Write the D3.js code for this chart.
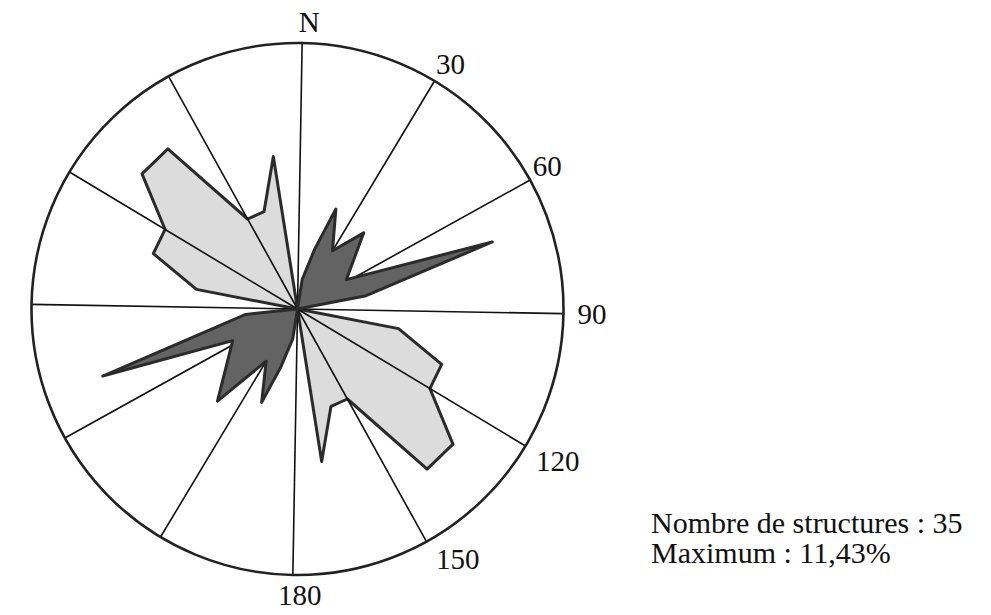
<!DOCTYPE html>
<html>

<head>
    <meta charset="utf-8">
    <title>Rose diagram</title>
</head>

<body style="margin:0; background:#fff;">
    <script src='https://d3js.org/d3.v7.min.js'></script>
    <style>
    svg text {
        font-family: "Liberation Serif", "DejaVu Serif", serif;
        font-size: 29px;
        fill: #111;
    }
    svg text.info {
        font-size: 30px;
    }
    </style>
    <script>
    // light rose : one vertex every 10 degrees (values in %)
    var lightAngles = [0, 10, 20, 30, 40, 50, 60, 70, 80, 90, 100, 110, 120, 130, 140, 150, 160, 170,
        180, 190, 200, 210, 220, 230, 240, 250, 260, 270, 280, 290, 300, 310, 320, 330, 340, 350];
    var lightValues = [0, 0, 0, 0, 0, 0, 0, 0, 0, 0, 5.71, 8.57, 8.57, 11.43, 11.43, 5.71, 5.71, 8.57,
        0, 0, 0, 0, 0, 0, 0, 0, 0, 0, 5.71, 8.57, 8.57, 11.43, 11.43, 5.71, 5.71, 8.57];

    // dark rose : spikes (angle in degrees, value in %)
    var darkAngles = [0, 8, 15, 20, 30, 40, 58, 70, 78, 90, 180, 188, 195, 200, 210, 220, 243, 250, 263, 270];
    var darkValues = [0, 1.66, 3.44, 5.94, 3.77, 5.6, 3.16, 11.43, 3.88, 0, 0, 1.66, 3.33, 5.55, 3.38, 6.77, 4.0, 11.43, 2.89, 0];

    // graduation every 30 degrees and its labels
    var tickAngles = [0, 30, 60, 90, 120, 150, 180, 210, 240, 270, 300, 330];
    var labelAngles = [0, 30, 60, 90, 120, 150, 180];
    var labelTexts = ["N", "30", "60", "90", "120", "150", "180"];

    var infoLines = ["Nombre de structures : 35", "Maximum : 11,43%"];

    var width = 991,
        height = 615;
    var cx = 297.5,
        cy = 309,
        R = 266;
    var tilt = 1; // the scan is turned about 1 degree

    var rad = function(a) { return a * Math.PI / 180; };
    var r = d3.scaleLinear().domain([0, 14.76]).range([0, R]);

    var svg = d3.select("body")
        .append("svg")
        .attr("width", width)
        .attr("height", height);

    var g = svg.append("g")
        .attr("transform", "translate(" + cx + "," + cy + ") rotate(" + tilt + ")");

    var rose = d3.lineRadial()
        .angle(function(d) { return rad(d[0]); })
        .radius(function(d) { return r(d[1]); })
        .curve(d3.curveLinearClosed);

    // light rose first
    g.append("path")
        .datum(d3.zip(lightAngles, lightValues))
        .attr("d", rose)
        .attr("fill", "#dcdcdc")
        .attr("stroke", "#2b2b2b")
        .attr("stroke-width", 3)
        .attr("stroke-linejoin", "round");

    // radial lines
    g.selectAll("line.spoke")
        .data(tickAngles)
        .enter()
        .append("line")
        .attr("class", "spoke")
        .attr("x1", 0)
        .attr("y1", 0)
        .attr("x2", function(d) { return R * Math.sin(rad(d)); })
        .attr("y2", function(d) { return -R * Math.cos(rad(d)); })
        .attr("stroke", "#111")
        .attr("stroke-width", 1.6);

    // dark rose on top
    g.append("path")
        .datum(d3.zip(darkAngles, darkValues))
        .attr("d", rose)
        .attr("fill", "#636363")
        .attr("stroke", "#2b2b2b")
        .attr("stroke-width", 3)
        .attr("stroke-linejoin", "round");

    g.append("circle")
        .attr("r", R)
        .attr("fill", "none")
        .attr("stroke", "#222")
        .attr("stroke-width", 2.6);

    // labels at the end of the spokes
    svg.selectAll("text.lab")
        .data(labelAngles)
        .enter()
        .append("text")
        .attr("class", "lab")
        .attr("x", function(d) {
            var s = Math.sin(rad(d + tilt)),
                c = Math.cos(rad(d + tilt));
            var x = cx + (R + (s > 0.9 ? 14 : 3)) * s;
            if (s < 0.1) x += 7;
            if (c < -0.1 && s > 0.1) x += 8;
            return x;
        })
        .attr("y", function(d) {
            var c = Math.cos(rad(d + tilt));
            if (c > 0.99) return cy - R - 11;
            if (c < -0.99) return cy + R + 9;
            return cy - (R + 8) * c;
        })
        .attr("text-anchor", function(d) { return Math.sin(rad(d)) > 0.4 ? "start" : "middle"; })
        .attr("dominant-baseline", function(d) {
            var c = Math.cos(rad(d));
            return c > 0.1 ? "auto" : (c < -0.1 ? "hanging" : "central");
        })
        .text(function(d, i) { return labelTexts[i]; });

    svg.selectAll("text.info")
        .data(infoLines)
        .enter()
        .append("text")
        .attr("class", "info")
        .attr("x", 651)
        .attr("y", function(d, i) { return 533 + i * 30; })
        .text(function(d) { return d; });
    </script>
</body>

</html>
